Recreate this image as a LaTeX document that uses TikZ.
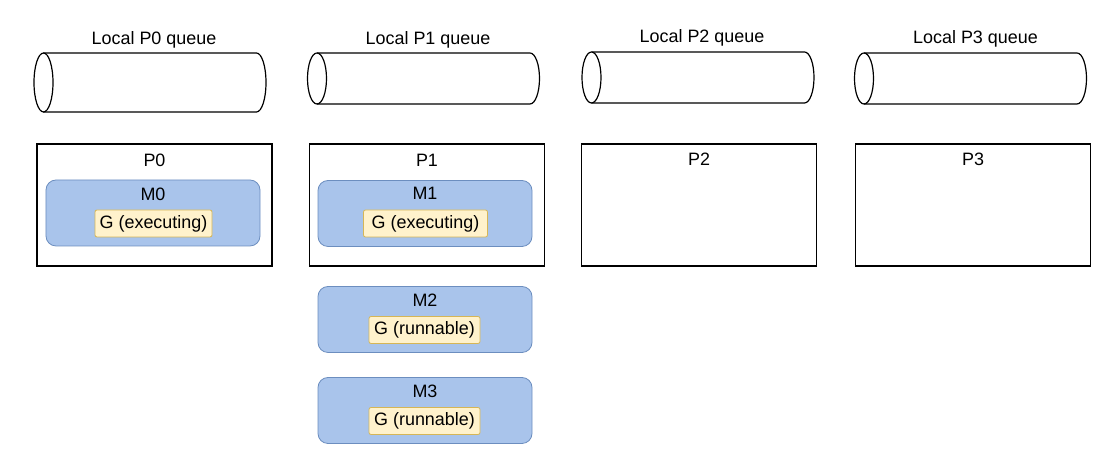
\documentclass[tikz,border=0pt]{standalone}
\usepackage{fontspec}
\setmainfont{Liberation Sans}

\definecolor{mfill}{HTML}{A9C4EB}
\definecolor{mline}{HTML}{6C8EBF}
\definecolor{gfill}{HTML}{FFF2CC}
\definecolor{gline}{HTML}{D6B656}

\begin{document}
\begin{tikzpicture}[
    x=1bp, y=1bp,
    every node/.style={font=\fontsize{18}{21}\selectfont},
    queue/.style={rectangle, minimum width=232bp, minimum height=51bp, inner sep=0pt, outer sep=0pt},
    qline/.style={draw, line width=1.2bp},
    pbox/.style={rectangle, draw, line width=1.2bp, minimum width=235bp, minimum height=122bp},
    mbox/.style={rectangle, draw=mline, fill=mfill, rounded corners=10bp, line width=0.8bp, minimum width=214bp, minimum height=66bp},
    gbox/.style={rectangle, draw=gline, fill=gfill, rounded corners=2bp, line width=0.8bp, minimum width=117bp, minimum height=27bp, inner sep=0pt},
    caption/.style={anchor=base, inner sep=0pt}
]
\useasboundingbox (0,0) rectangle (1116,466);

% Local queues
\node[queue, minimum height=59bp] (q0) at (150,383.5) {};
\node[queue] (q1) at (423.5,387.5) {};
\node[queue] (q2) at (698,388.5) {};
\node[queue] (q3) at (970.5,387.5) {};

\foreach \q/\r in {q0/29.5, q1/25.5, q2/25.5, q3/25.5} {
  \draw[qline] ([xshift=9.5bp]\q.north west) -- ([xshift=-9.5bp]\q.north east)
    arc[start angle=90, end angle=-90, x radius=9.5bp, y radius=\r bp]
    -- ([xshift=9.5bp]\q.south west);
  \draw[qline] ([xshift=9.5bp]\q.west) ellipse [x radius=9.5bp, y radius=\r bp];
}

\node[caption] (q0_label) at (154,421) {Local P0 queue};
\node[caption] (q1_label) at (428,421) {Local P1 queue};
\node[caption] (q2_label) at (702,423) {Local P2 queue};
\node[caption] (q3_label) at (975.5,422) {Local P3 queue};

% Processors
\node[pbox] (p0) at (154.5,261) {};
\node[pbox] (p1) at (427,261) {};
\node[pbox] (p2) at (699,261) {};
\node[pbox] (p3) at (973,261) {};

\node[caption] (p0_label) at (154.5,299) {P0};
\node[caption] (p1_label) at (427,299) {P1};
\node[caption] (p2_label) at (699,300) {P2};
\node[caption] (p3_label) at (973,300) {P3};

% Machines
\node[mbox] (m0) at (153,253) {};
\node[mbox] (m1) at (425,252.5) {};
\node[mbox] (m2) at (425,146.5) {};
\node[mbox] (m3) at (425,55.5) {};

\node[caption] (m0_label) at (153,265) {M0};
\node[caption] (m1_label) at (425,266) {M1};
\node[caption] (m2_label) at (425,159) {M2};
\node[caption] (m3_label) at (425,68) {M3};

% Goroutines
\node[gbox] (g0) at (153.5,242.5) {G (executing)};
\node[gbox, minimum width=124bp] (g1) at (425.5,242.5) {G (executing)};
\node[gbox, minimum width=111bp] (g2) at (424.5,136) {G (runnable)};
\node[gbox, minimum width=111bp] (g3) at (424.5,45) {G (runnable)};

\end{tikzpicture}
\end{document}
